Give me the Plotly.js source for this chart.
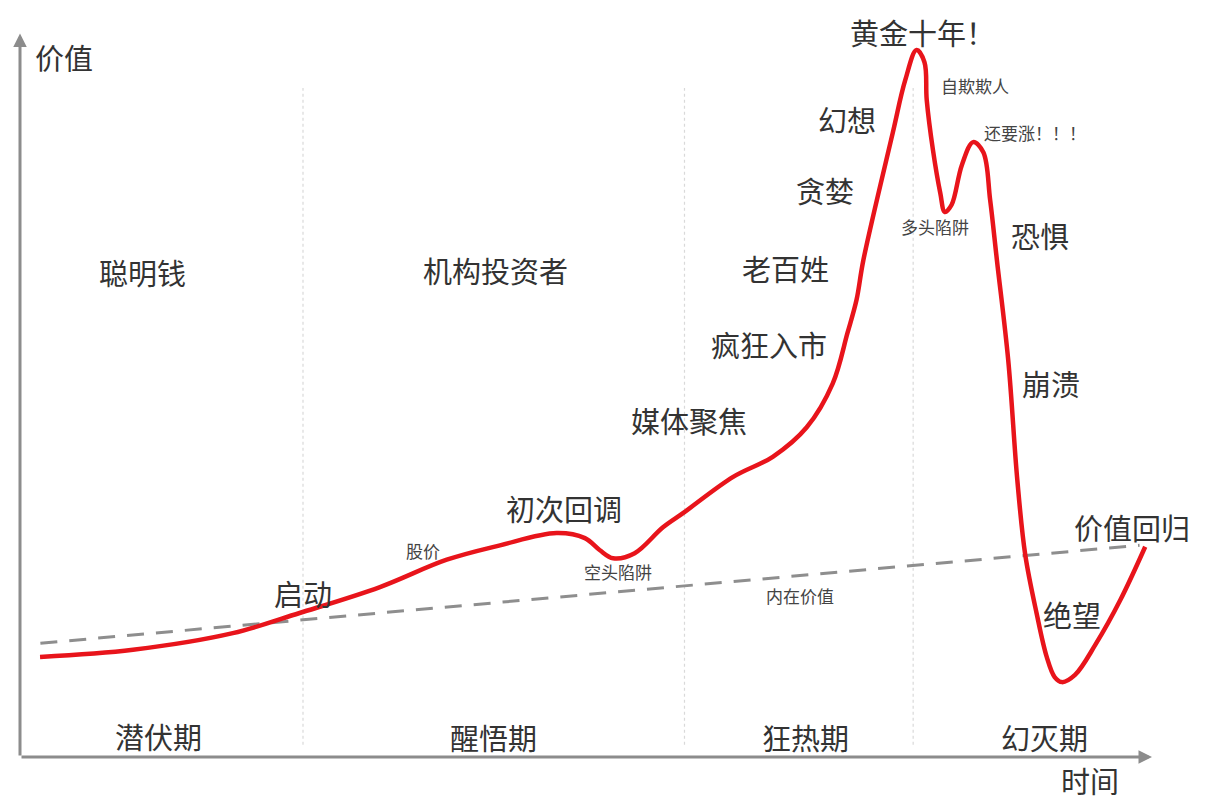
<!DOCTYPE html>
<html>
<head>
<meta charset="utf-8">
<script src="https://cdn.plot.ly/plotly-3.0.1.min.js"></script>
<style>html,body{margin:0;padding:0;background:#fff;}#chart{width:1211px;height:805px;}</style>
</head>
<body>
<div id="chart"></div>
<script>
// ---- data (time 0-100, value 0-100) ----
const priceTime = [1.77, 9.98, 18.8, 24.7, 31.8, 37.7, 42.4, 47.4, 49.9, 51.2, 52.4, 54.3, 56.8, 58.6, 63.0, 66.5, 69.5, 71.8, 73.1, 73.9, 74.5, 77.1, 78.2, 79.2, 79.9, 80.1, 80.65, 81.3, 81.7, 82.3, 83.2, 84.2, 85.1, 85.7, 86.3, 87.3, 88.1, 88.8, 89.8, 90.7, 91.4, 92.05, 93.2, 95.0, 97.2, 99.4];
const priceValue = [13.9, 14.9, 17.2, 20.0, 23.6, 27.4, 29.4, 31.1, 30.4, 28.75, 27.6, 28.3, 31.9, 33.9, 38.9, 41.7, 45.8, 51.9, 58.9, 63.5, 69.0, 86.7, 94.0, 98.2, 96.5, 91.25, 84.3, 78.3, 75.7, 76.7, 82.2, 85.4, 84.0, 77.4, 69.0, 55.1, 38.5, 28.1, 20.0, 13.9, 11.1, 10.4, 11.4, 15.6, 21.8, 29.2];

const intrinsicTime = [1.8, 98.9];
const intrinsicValue = [15.8, 29.4];

const phaseBounds = [25.0, 58.7, 78.9];
const phaseBoundTop = 92.9;
const phaseBoundBottom = 1.7;

const bigLabels = ["聪明钱", "机构投资者", "老百姓", "潜伏期", "醒悟期", "狂热期", "幻灭期", "启动", "初次回调", "媒体聚焦", "疯狂入市", "贪婪", "幻想", "黄金十年！", "恐惧", "崩溃", "绝望", "价值回归", "价值", "时间"];
const bigLabelX = [10.8, 42.0, 67.6, 12.2, 41.8, 69.4, 90.5, 25.0, 48.1, 59.1, 66.2, 71.1, 73.1, 79.7, 90.1, 91.1, 92.9, 98.2, 3.9, 94.5];
const bigLabelY = [67.4, 67.6, 67.9, 2.9, 2.8, 2.8, 2.8, 22.8, 34.6, 46.8, 57.4, 78.75, 88.6, 100.7, 72.5, 51.9, 19.9, 31.9, 97.2, -3.2];

const smallLabels = ["股价", "空头陷阱", "内在价值", "自欺欺人", "还要涨！！！", "多头陷阱"];
const smallLabelX = [35.6, 52.8, 68.9, 84.4, 89.7, 80.8];
const smallLabelY = [28.75, 25.7, 22.5, 93.2, 86.7, 73.75];

// ---- traces ----
const FONT = '"Noto Sans CJK SC", "Noto Sans", sans-serif';
const traces = [];
phaseBounds.forEach(b => {
  traces.push({
    x: [b, b], y: [phaseBoundBottom, phaseBoundTop], mode: 'lines',
    line: {color: '#d9d9d9', width: 1.2, dash: 'dot'}, hoverinfo: 'skip', showlegend: false
  });
});
traces.push({
  x: intrinsicTime, y: intrinsicValue, mode: 'lines',
  line: {color: '#8e8e8e', width: 3, dash: '17px,12px'}, hoverinfo: 'skip', showlegend: false
});
traces.push({
  x: priceTime, y: priceValue, mode: 'lines',
  line: {color: '#e8141b', width: 4.5, shape: 'spline', smoothing: 1}, hoverinfo: 'skip', showlegend: false
});

const annotations = [];
bigLabels.forEach((t, i) => annotations.push({
  x: bigLabelX[i], y: bigLabelY[i], xref: 'x', yref: 'y', text: t, showarrow: false,
  xanchor: 'center', yanchor: 'middle', font: {family: FONT, size: 29, color: '#333333'}
}));
smallLabels.forEach((t, i) => annotations.push({
  x: smallLabelX[i], y: smallLabelY[i], xref: 'x', yref: 'y', text: t, showarrow: false,
  xanchor: 'center', yanchor: 'middle', font: {family: FONT, size: 17, color: '#444444'}
}));
// axis arrows
annotations.push({x: 100, y: 0, ax: 0, ay: 0, xref: 'x', yref: 'y', axref: 'x', ayref: 'y', text: '',
  showarrow: true, arrowhead: 2, arrowsize: 0.9, arrowwidth: 3, arrowcolor: '#8c8c8c'});
annotations.push({x: 0, y: 100.5, ax: 0, ay: 0, xref: 'x', yref: 'y', axref: 'x', ayref: 'y', text: '',
  showarrow: true, arrowhead: 2, arrowsize: 0.9, arrowwidth: 3, arrowcolor: '#8c8c8c'});

const layout = {
  width: 1211, height: 805,
  margin: {l: 20, r: 59, t: 0, b: 0},
  paper_bgcolor: '#ffffff', plot_bgcolor: '#ffffff',
  xaxis: {range: [0, 100], showgrid: false, zeroline: false, showticklabels: false, showline: false, ticks: ''},
  yaxis: {range: [-6.667, 105.139], showgrid: false, zeroline: false, showticklabels: false, showline: false, ticks: ''},
  annotations: annotations,
  showlegend: false
};
Plotly.newPlot('chart', traces, layout, {displayModeBar: false, staticPlot: true});
</script>
</body>
</html>
